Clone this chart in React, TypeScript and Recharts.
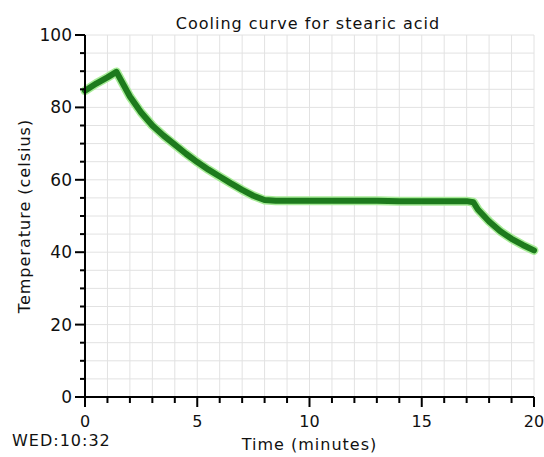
import React from 'react';
import { LineChart, Line, XAxis, YAxis, CartesianGrid, Label } from 'recharts';

const times = [
  0, 0.5, 1, 1.4, 2, 2.5, 3, 3.5, 4, 4.5, 5, 5.5, 6, 6.5, 7, 7.5, 8, 8.5, 9, 10,
  11, 12, 13, 14, 15, 16, 17, 17.3, 17.5, 18, 18.5, 19, 19.5, 20,
];
const temps = [
  84.6, 86.6, 88.3, 89.8, 83.0, 78.6, 75.0, 72.2, 69.7, 67.2, 64.9, 62.8, 60.9,
  59.0, 57.2, 55.6, 54.4, 54.2, 54.2, 54.2, 54.2, 54.2, 54.2, 54.1, 54.1, 54.1,
  54.1, 53.8, 51.8, 48.5, 45.8, 43.7, 42.0, 40.5,
];
const xTicks = Array.from({ length: 21 }, (_, i) => i);
const yTicks = Array.from({ length: 21 }, (_, i) => i * 5);

const data = times.map((t, i) => ({ time: t, temp: temps[i] }));

const FONT = 'DejaVu Sans, sans-serif';

const XTick = (props: any) => {
  const { x, y, payload } = props;
  const major = payload.value % 5 === 0;
  return (
    <g>
      <line x1={x} y1={y} x2={x} y2={y + (major ? 10 : 6)} stroke="#000" strokeWidth={2} />
      {major && (
        <text x={x} y={y + 30} textAnchor="middle" fontSize={16} fontFamily={FONT} fill="#111">
          {payload.value}
        </text>
      )}
    </g>
  );
};

const YTick = (props: any) => {
  const { x, y, payload } = props;
  const major = payload.value % 20 === 0;
  return (
    <g>
      <line x1={x - (major ? 10 : 5)} y1={y} x2={x} y2={y} stroke="#000" strokeWidth={2} />
      {major && (
        <text x={x - 13} y={y + 6} textAnchor="end" fontSize={17} fontFamily={FONT} fill="#111">
          {payload.value}
        </text>
      )}
    </g>
  );
};

export default function App() {
  return (
    <div style={{ position: 'absolute', left: 0, top: 0, width: 544, height: 457, background: '#fff' }}>
      <div
        style={{
          position: 'absolute',
          left: 0,
          width: 616,
          top: 14,
          textAlign: 'center',
          fontFamily: FONT,
          fontSize: 16,
          letterSpacing: 1,
          color: '#111',
        }}
      >
        Cooling curve for stearic acid
      </div>
      <div
        style={{
          position: 'absolute',
          left: 12,
          top: 433,
          fontFamily: FONT,
          fontSize: 16,
          lineHeight: '16px',
          letterSpacing: 1,
          color: '#111',
        }}
      >
        WED:10:32
      </div>
      <LineChart width={544} height={457} data={data} margin={{ top: 35, right: 10, bottom: 0, left: 0 }}>
        <CartesianGrid stroke="#e2e2e2" strokeWidth={1} />
        <XAxis
          dataKey="time"
          type="number"
          domain={[0, 20]}
          ticks={xTicks}
          interval={0}
          height={60}
          tickSize={0}
          tickMargin={0}
          tickLine={false}
          tick={<XTick />}
          axisLine={{ stroke: '#000', strokeWidth: 2 }}
        >
          <Label
            value="Time (minutes)"
            position="insideBottom"
            offset={7}
            style={{ fontFamily: FONT, fontSize: 16, letterSpacing: 1, fill: '#111' }}
          />
        </XAxis>
        <YAxis
          type="number"
          domain={[0, 100]}
          ticks={yTicks}
          interval={0}
          width={85}
          tickSize={0}
          tickMargin={0}
          tickLine={false}
          tick={<YTick />}
          axisLine={{ stroke: '#000', strokeWidth: 2 }}
        >
          <Label
            value="Temperature (celsius)"
            angle={-90}
            position="insideLeft"
            offset={24}
            style={{ fontFamily: FONT, fontSize: 16, letterSpacing: 1, fill: '#111', textAnchor: 'middle' }}
          />
        </YAxis>
        <Line
          type="linear"
          dataKey="temp"
          stroke="#a8ec98"
          strokeWidth={9}
          strokeLinejoin="round"
          strokeLinecap="round"
          dot={false}
          activeDot={false}
          isAnimationActive={false}
        />
        <Line
          type="linear"
          dataKey="temp"
          stroke="#1d7a1d"
          strokeWidth={6}
          strokeLinejoin="round"
          strokeLinecap="round"
          dot={false}
          activeDot={false}
          isAnimationActive={false}
        />
      </LineChart>
    </div>
  );
}
